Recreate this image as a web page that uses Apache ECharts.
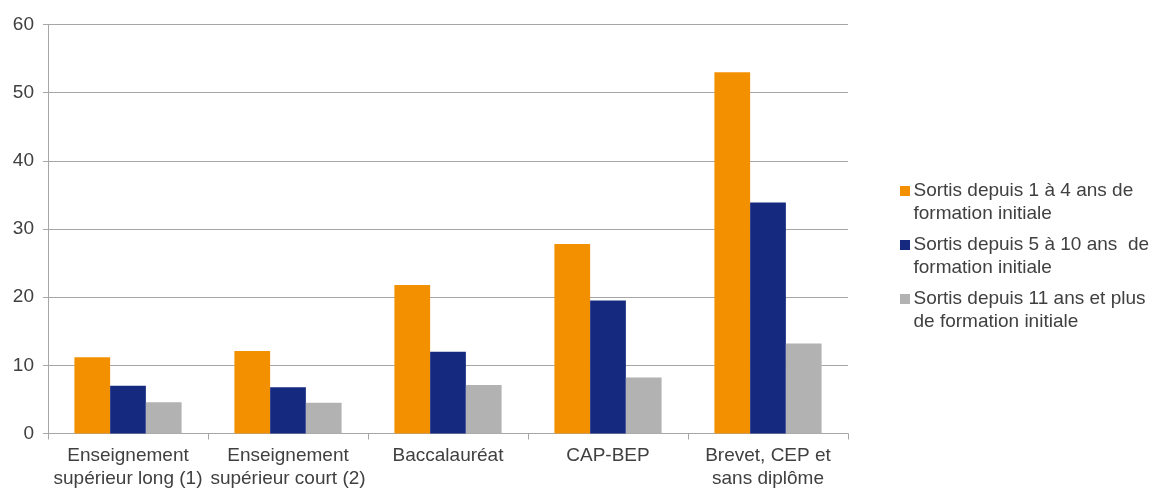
<!DOCTYPE html>
<html><head><meta charset="utf-8">
<script src="https://cdn.jsdelivr.net/npm/echarts@6/dist/echarts.min.js"></script>
<style>html,body{margin:0;padding:0;background:#fff}#c{width:1157px;height:489px}</style>
</head><body><div id="c"></div>
<script>
const categories = ['Enseignement\nsupérieur long (1)', 'Enseignement\nsupérieur court (2)', 'Baccalauréat', 'CAP-BEP', 'Brevet, CEP et\nsans diplôme'];
const seriesNames = ['Sortis depuis 1 à 4 ans de\nformation initiale', 'Sortis depuis 5 à 10 ans  de\nformation initiale', 'Sortis depuis 11 ans et plus\nde formation initiale'];
const s1 = [11.2, 12.1, 21.8, 27.8, 53.0];
const s2 = [7.0, 6.8, 12.0, 19.5, 33.9];
const s3 = [4.6, 4.5, 7.1, 8.2, 13.2];
const colors = ['#F39000', '#15297F', '#B2B2B2'];
const yTicks = [0, 10, 20, 30, 40, 50, 60];

const font = 'Liberation Sans, Arial, sans-serif';
const txt = '#404040';
const icon = 'path://M0,0h0.01v0.01h-0.01zM0,7h10v10h-10zM0,45.99h0.01v0.01h-0.01z';
const chart = echarts.init(document.getElementById('c'));
chart.setOption({
  animation: false,
  color: colors,
  grid: { left: 48, right: 309, top: 24.5, bottom: 55.5, containLabel: false, outerBoundsMode: 'none' },
  legend: {
    orient: 'vertical', left: 895, top: 174,
    itemWidth: 11, itemHeight: 46, itemGap: 8, icon: icon,
    textStyle: { fontFamily: font, fontSize: 19, color: txt, lineHeight: 23, padding: [0,0,0,-2] },
    data: seriesNames
  },
  xAxis: {
    type: 'category', data: categories,
    axisLine: { lineStyle: { color: '#A6A6A6', width: 1 } },
    axisTick: { show: true, length: 6, lineStyle: { color: '#A6A6A6' } },
    axisLabel: { fontFamily: font, fontSize: 19, color: txt, lineHeight: 23, margin: 11, interval: 0 }
  },
  yAxis: {
    type: 'value', min: yTicks[0], max: yTicks[yTicks.length - 1], interval: 10,
    axisLine: { show: true, lineStyle: { color: '#A6A6A6' } },
    axisTick: { show: true, length: 5, lineStyle: { color: '#A6A6A6' } },
    splitLine: { lineStyle: { color: '#A6A6A6' } },
    axisLabel: { fontFamily: font, fontSize: 19, color: txt, margin: 14 }
  },
  series: [s1, s2, s3].map((d, i) => ({
    type: 'bar', name: seriesNames[i], data: d,
    barGap: '0%', barCategoryGap: '33%',
    itemStyle: { color: colors[i] }
  }))
});
</script></body></html>
